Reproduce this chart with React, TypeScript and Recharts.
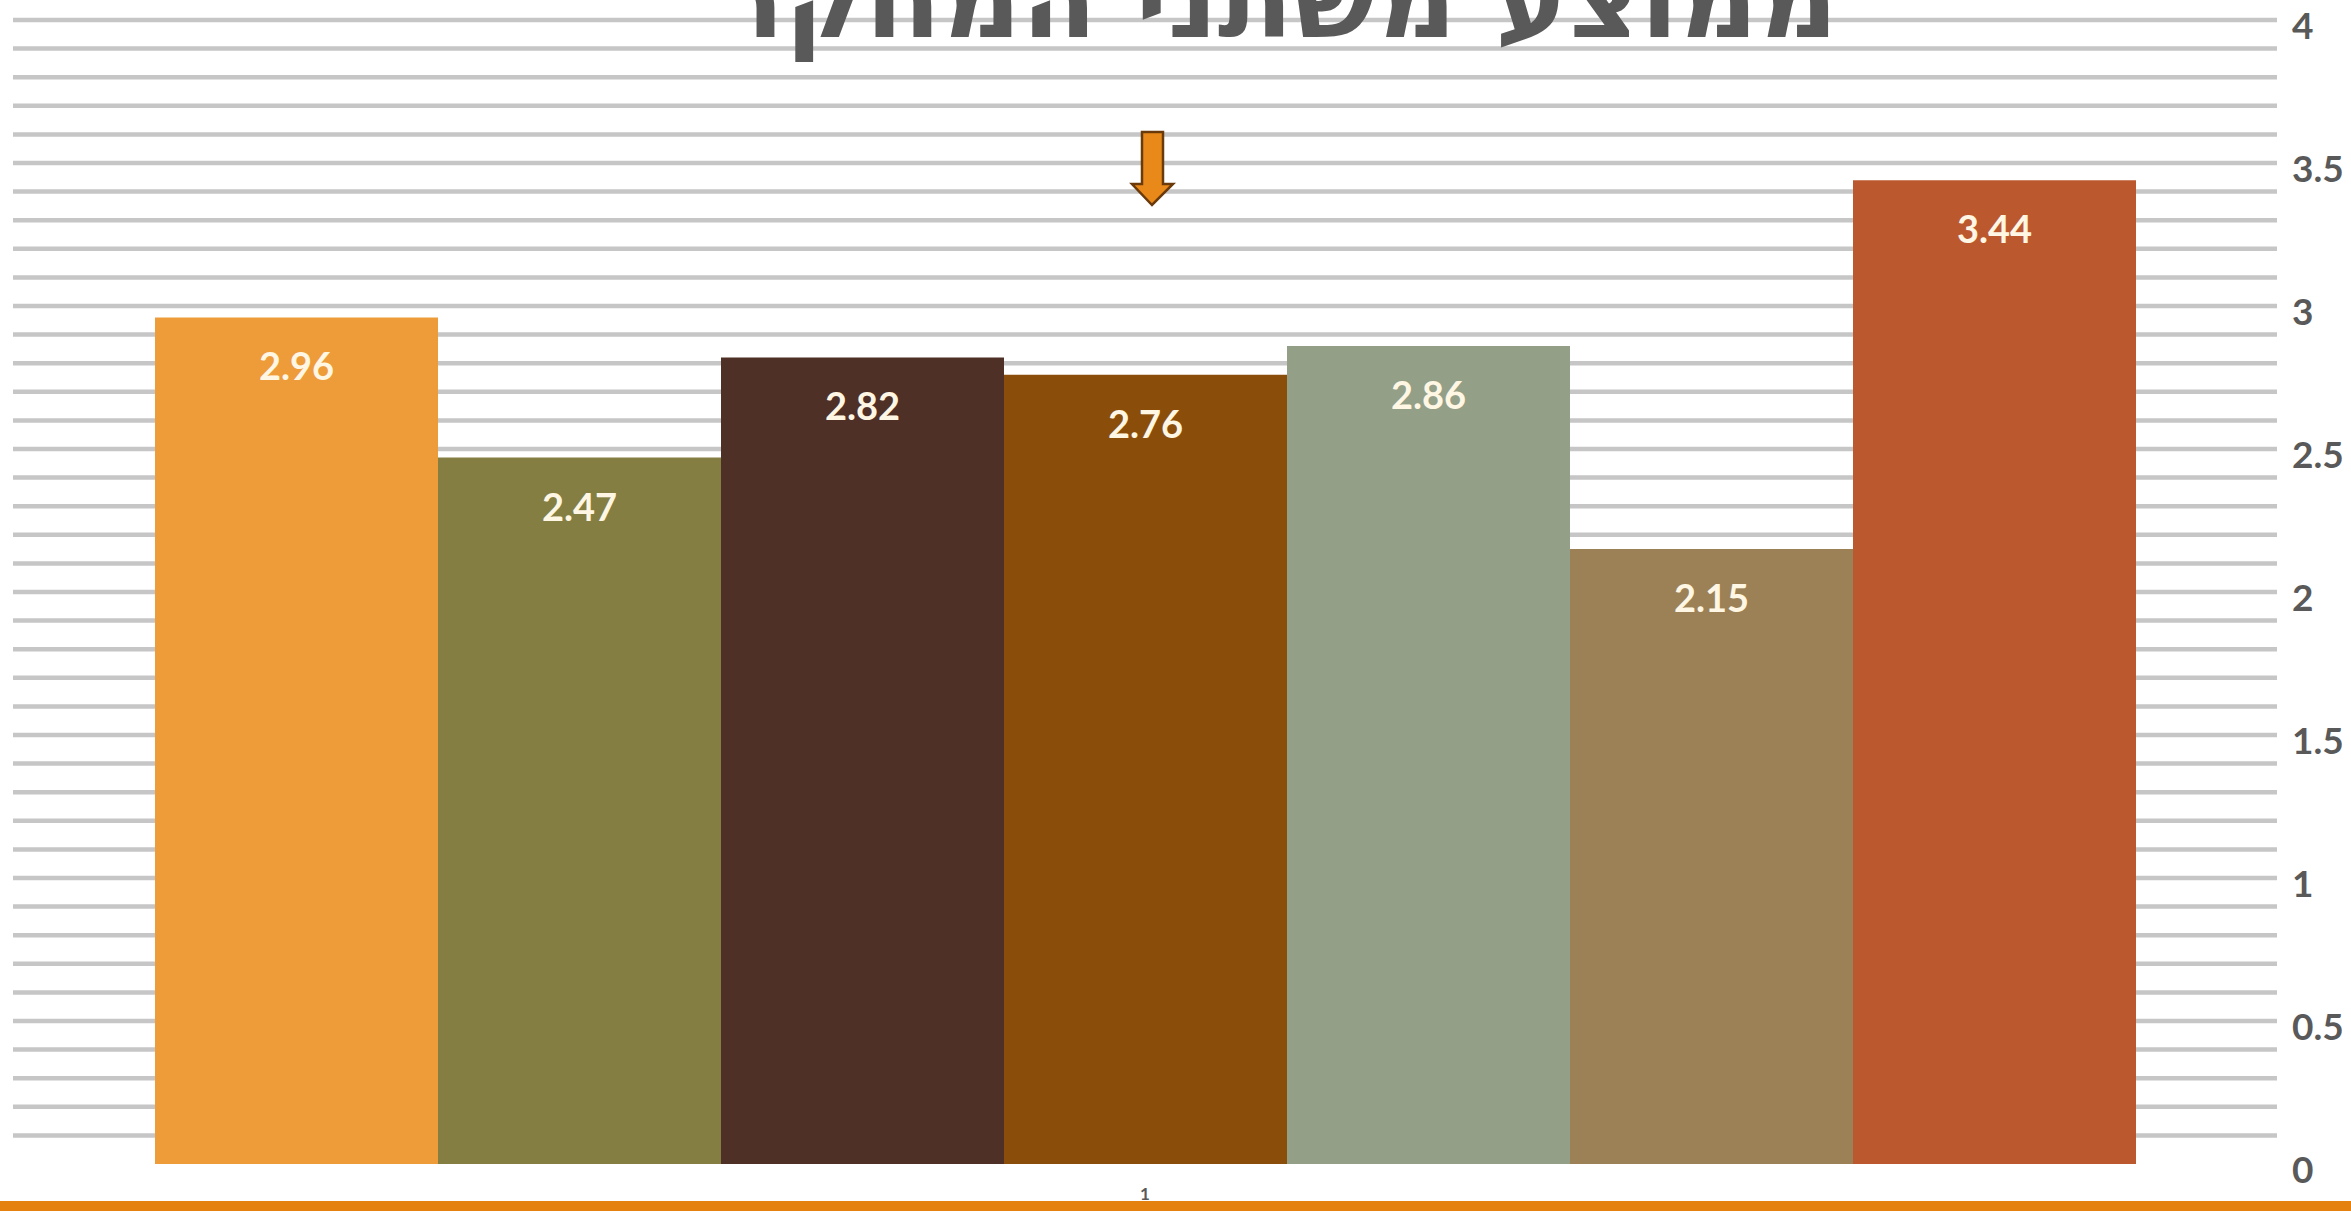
import React from 'react';
import { BarChart, Bar, XAxis, YAxis, CartesianGrid, LabelList } from 'recharts';

const categories = ['1'];
const seriesKeys = ['v1', 'v2', 'v3', 'v4', 'v5', 'v6', 'v7'];
const seriesValues = [2.96, 2.47, 2.82, 2.76, 2.86, 2.15, 3.44];
const seriesColors = ['#EE9B3A', '#847E42', '#4F3027', '#8B4E0A', '#949F87', '#9C8156', '#BC582D'];
// minor steps of 0.1 for the grid; only the 0.5 steps get a label
const yTicks = [
  0, 0.1, 0.2, 0.3, 0.4, 0.5, 0.6, 0.7, 0.8, 0.9, 1.0,
  1.1, 1.2, 1.3, 1.4, 1.5, 1.6, 1.7, 1.8, 1.9, 2.0,
  2.1, 2.2, 2.3, 2.4, 2.5, 2.6, 2.7, 2.8, 2.9, 3.0,
  3.1, 3.2, 3.3, 3.4, 3.5, 3.6, 3.7, 3.8, 3.9, 4.0,
];
const labelledTicks = ['0', '0.5', '1', '1.5', '2', '2.5', '3', '3.5', '4'];
const title = 'ממוצע משתני המחקר';

const data = categories.map((name) => {
  const row: Record<string, string | number> = { name };
  seriesKeys.forEach((k, i) => {
    row[k] = seriesValues[i];
  });
  return row;
});

const W = 2351;
const H = 1211;

// skip the line on the zero baseline, like the original
const gridLine = (props: any) => {
  if (props.index === 0) return <g key={props.key} />;
  return (
    <line
      key={props.key}
      x1={props.x1}
      y1={props.y1}
      x2={props.x2}
      y2={props.y2}
      stroke="#c6c6c6"
      strokeWidth={4.5}
    />
  );
};

const YTick = (props: any) => {
  const { x, y, payload } = props;
  const s = String(Math.round(payload.value * 10) / 10);
  if (!labelledTicks.includes(s)) return <g />;
  return (
    <text
      x={x}
      y={y}
      dy={19}
      textAnchor="start"
      fill="#595959"
      fontSize={37}
      fontWeight={700}
      fontFamily="Lato"
    >
      {s}
    </text>
  );
};

const App: React.FC = () => {
  return (
    <div style={{ position: 'absolute', left: 0, top: 0, width: W, height: H, background: '#fff', overflow: 'hidden' }}>
      {/* orange strip along the bottom, under the chart */}
      <div style={{ position: 'absolute', left: 0, top: 1201, width: W, height: 10, background: '#E5820F' }} />
      <div style={{ position: 'absolute', left: 0, top: 0 }}>
        <BarChart
          width={W}
          height={H}
          data={data}
          margin={{ top: 20, right: 0, bottom: 0, left: 13 }}
          barGap={0}
          barSize={283}
        >
          <CartesianGrid vertical={false} horizontal={gridLine} />
          <XAxis
            dataKey="name"
            height={47}
            axisLine={false}
            tickLine={false}
            tickSize={0}
            tickMargin={24}
            tick={{ fill: '#595959', fontSize: 17, fontFamily: 'Lato', fontWeight: 700 }}
          />
          <YAxis
            orientation="right"
            width={74}
            domain={[0, 4]}
            ticks={yTicks}
            interval={0}
            axisLine={false}
            tickLine={false}
            tickSize={0}
            tickMargin={15}
            tick={<YTick />}
          />
          {seriesKeys.map((k, i) => (
            <Bar key={k} dataKey={k} fill={seriesColors[i]} isAnimationActive={false}>
              <LabelList
                dataKey={k}
                position="insideTop"
                offset={36}
                fill="#FFF6E3"
                fontSize={38}
                fontWeight={700}
                fontFamily="Lato"
              />
            </Bar>
          ))}
        </BarChart>
      </div>
      <svg
        width={W}
        height={H}
        style={{ position: 'absolute', left: 0, top: 0, pointerEvents: 'none' }}
      >
        <text
          x={1278}
          y={37}
          textAnchor="middle"
          fill="#595959"
          fontSize={104}
          fontWeight={700}
          fontFamily="DejaVu Sans"
          textLength={1120}
          lengthAdjust="spacingAndGlyphs"
          direction="rtl"
        >
          {title}
        </text>
        <path
          d="M1142 132 L1163 132 L1163 184 L1173 184 L1152 205 L1132 184 L1142 184 Z"
          fill="#E8891A"
          stroke="#6B3A0A"
          strokeWidth={2.5}
          strokeLinejoin="miter"
        />
      </svg>
    </div>
  );
};

export default App;
